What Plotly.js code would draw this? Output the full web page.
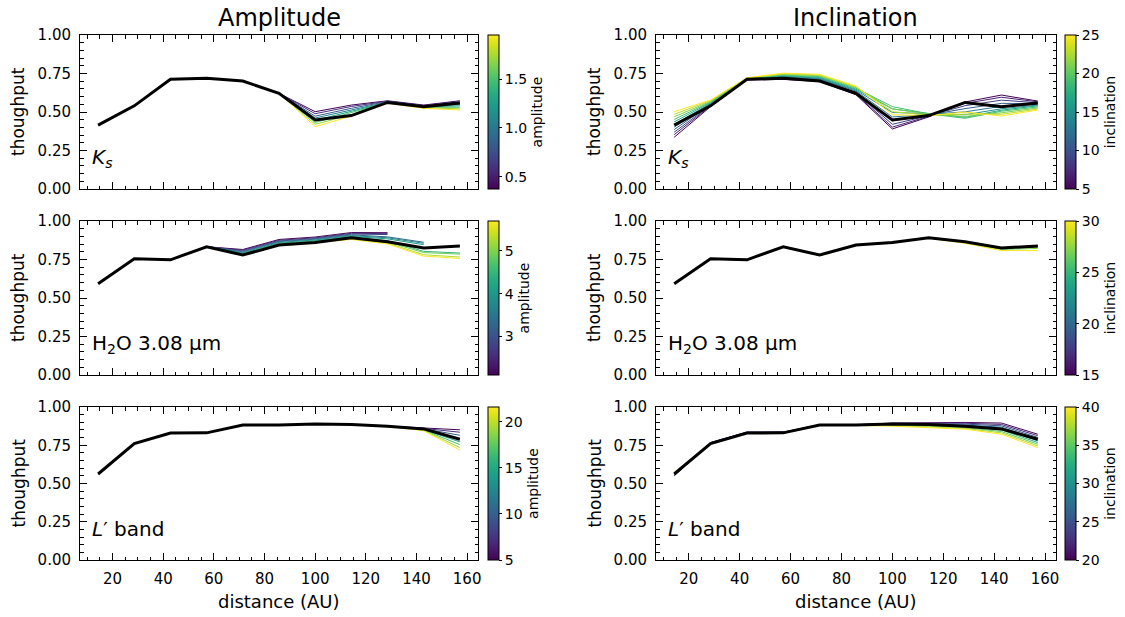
<!DOCTYPE html>
<html>
<head>
<meta charset="utf-8">
<script src="https://cdn.plot.ly/plotly-3.0.1.min.js"></script>
<style>html,body{margin:0;padding:0;background:#fff}#chart{width:1125px;height:617px}</style>
</head>
<body>
<div id="chart"></div>
<script>
// ---------------- DATA ----------------
const distance = [14.29, 28.57, 42.86, 57.14, 71.43, 85.71, 100.0, 114.29, 128.57, 142.86, 157.14];

// Reference (black) curves
const ksRef  = [0.415, 0.540, 0.712, 0.719, 0.701, 0.621, 0.448, 0.477, 0.562, 0.534, 0.558];
const h2oRef = [0.593, 0.755, 0.748, 0.833, 0.779, 0.844, 0.860, 0.891, 0.865, 0.825, 0.837];
const lpRef  = [0.562, 0.761, 0.830, 0.831, 0.882, 0.882, 0.889, 0.886, 0.875, 0.857, 0.789];

// Ks - amplitude
const ksAmpValues = [0.375, 0.6, 0.825, 1.05, 1.275, 1.5, 1.725, 1.95];
const ksAmpCurves = [
  [0.415, 0.540, 0.712, 0.719, 0.701, 0.621, 0.502, 0.545, 0.573, 0.545, 0.573],
  [0.415, 0.540, 0.712, 0.719, 0.701, 0.621, 0.489, 0.536, 0.570, 0.543, 0.566],
  [0.415, 0.540, 0.712, 0.719, 0.701, 0.621, 0.473, 0.524, 0.568, 0.539, 0.557],
  [0.415, 0.540, 0.712, 0.719, 0.701, 0.621, 0.461, 0.513, 0.565, 0.536, 0.548],
  [0.415, 0.540, 0.712, 0.719, 0.701, 0.621, 0.446, 0.503, 0.563, 0.532, 0.540],
  [0.415, 0.540, 0.712, 0.719, 0.701, 0.621, 0.432, 0.494, 0.561, 0.530, 0.531],
  [0.415, 0.540, 0.712, 0.719, 0.701, 0.621, 0.420, 0.483, 0.558, 0.527, 0.521],
  [0.415, 0.540, 0.712, 0.719, 0.701, 0.621, 0.405, 0.474, 0.556, 0.524, 0.513]
];

// Ks - inclination
const ksIncValues = [5, 7, 9, 11, 13, 15, 17, 19, 21, 23, 25];
const ksIncCurves = [
  [0.336, 0.535, 0.708, 0.712, 0.698, 0.612, 0.390, 0.468, 0.565, 0.610, 0.571],
  [0.353, 0.539, 0.709, 0.716, 0.703, 0.618, 0.402, 0.472, 0.556, 0.596, 0.566],
  [0.369, 0.543, 0.711, 0.720, 0.707, 0.624, 0.420, 0.476, 0.541, 0.577, 0.560],
  [0.386, 0.548, 0.712, 0.724, 0.712, 0.630, 0.442, 0.480, 0.522, 0.556, 0.555],
  [0.402, 0.552, 0.714, 0.728, 0.716, 0.636, 0.468, 0.485, 0.501, 0.537, 0.550],
  [0.419, 0.556, 0.715, 0.732, 0.720, 0.642, 0.497, 0.489, 0.482, 0.521, 0.545],
  [0.436, 0.561, 0.716, 0.736, 0.725, 0.648, 0.520, 0.490, 0.466, 0.512, 0.540],
  [0.452, 0.565, 0.717, 0.740, 0.730, 0.654, 0.535, 0.488, 0.459, 0.505, 0.533],
  [0.469, 0.569, 0.719, 0.744, 0.735, 0.659, 0.521, 0.485, 0.471, 0.495, 0.526],
  [0.485, 0.574, 0.720, 0.748, 0.740, 0.664, 0.502, 0.480, 0.486, 0.485, 0.519],
  [0.502, 0.578, 0.722, 0.752, 0.745, 0.669, 0.482, 0.476, 0.500, 0.474, 0.513]
];

// H2O - amplitude
const h2oAmpValues = [2.1, 2.5, 2.9, 3.3, 3.7, 4.1, 4.5, 4.9, 5.3, 5.7];
const h2oAmpCurves = [
  [0.593, 0.755, 0.748, 0.833, 0.815, 0.880, 0.896, 0.925, 0.924, null, null],
  [0.593, 0.755, 0.748, 0.833, 0.810, 0.875, 0.891, 0.920, 0.918, null, null],
  [0.593, 0.755, 0.748, 0.833, 0.805, 0.870, 0.886, 0.915, 0.912, null, null],
  [0.593, 0.755, 0.748, 0.833, 0.800, 0.866, 0.882, 0.910, 0.897, 0.862, null],
  [0.593, 0.755, 0.748, 0.833, 0.795, 0.861, 0.877, 0.905, 0.891, 0.855, null],
  [0.593, 0.755, 0.748, 0.833, 0.790, 0.856, 0.873, 0.900, 0.884, 0.846, null],
  [0.593, 0.755, 0.748, 0.833, 0.786, 0.852, 0.869, 0.895, 0.872, 0.803, 0.792],
  [0.593, 0.755, 0.748, 0.833, 0.783, 0.849, 0.866, 0.890, 0.864, 0.795, 0.785],
  [0.593, 0.755, 0.748, 0.833, 0.780, 0.847, 0.863, 0.885, 0.857, 0.781, 0.766],
  [0.593, 0.755, 0.748, 0.833, 0.778, 0.845, 0.860, 0.880, 0.851, 0.772, 0.757]
];

// H2O - inclination
const h2oIncValues = [15, 18, 21, 24, 27, 30];
const h2oIncCurves = [
  [0.593, 0.755, 0.744, 0.833, 0.779, 0.844, 0.860, 0.892, 0.866, 0.826, 0.838],
  [0.593, 0.755, 0.746, 0.833, 0.778, 0.844, 0.860, 0.891, 0.865, 0.825, 0.836],
  [0.593, 0.755, 0.748, 0.833, 0.778, 0.844, 0.860, 0.891, 0.864, 0.823, 0.834],
  [0.593, 0.755, 0.749, 0.833, 0.777, 0.844, 0.860, 0.890, 0.862, 0.820, 0.830],
  [0.593, 0.755, 0.750, 0.833, 0.776, 0.844, 0.860, 0.889, 0.859, 0.815, 0.822],
  [0.593, 0.755, 0.751, 0.833, 0.774, 0.843, 0.860, 0.888, 0.855, 0.808, 0.808]
];

// L' - amplitude
const lpAmpValues = [5, 7.4, 9.8, 12.1, 14.5, 16.8, 19.2, 21.6];
const lpAmpCurves = [
  [0.562, 0.761, 0.830, 0.831, 0.882, 0.882, 0.889, 0.886, 0.875, 0.862, 0.851],
  [0.562, 0.761, 0.830, 0.831, 0.882, 0.882, 0.889, 0.886, 0.875, 0.860, 0.835],
  [0.562, 0.761, 0.830, 0.831, 0.882, 0.882, 0.889, 0.886, 0.875, 0.858, 0.815],
  [0.562, 0.761, 0.830, 0.831, 0.882, 0.882, 0.889, 0.886, 0.874, 0.856, 0.792],
  [0.562, 0.761, 0.830, 0.831, 0.882, 0.882, 0.889, 0.886, 0.874, 0.853, 0.772],
  [0.562, 0.761, 0.830, 0.831, 0.882, 0.882, 0.889, 0.886, 0.873, 0.850, 0.754],
  [0.562, 0.761, 0.830, 0.831, 0.882, 0.882, 0.889, 0.886, 0.873, 0.848, 0.735],
  [0.562, 0.761, 0.830, 0.831, 0.882, 0.882, 0.889, 0.886, 0.872, 0.845, 0.719]
];

// L' - inclination
const lpIncValues = [20, 22.5, 25, 27.5, 30, 32.5, 35, 37.5, 40];
const lpIncCurves = [
  [0.552, 0.768, 0.836, 0.836, 0.884, 0.884, 0.895, 0.899, 0.899, 0.895, 0.822],
  [0.550, 0.767, 0.835, 0.835, 0.884, 0.884, 0.893, 0.895, 0.894, 0.886, 0.812],
  [0.552, 0.766, 0.834, 0.835, 0.883, 0.883, 0.890, 0.891, 0.888, 0.877, 0.801],
  [0.556, 0.765, 0.834, 0.834, 0.883, 0.883, 0.888, 0.887, 0.882, 0.868, 0.790],
  [0.560, 0.763, 0.833, 0.833, 0.882, 0.882, 0.885, 0.883, 0.876, 0.859, 0.779],
  [0.563, 0.762, 0.832, 0.832, 0.882, 0.882, 0.883, 0.879, 0.870, 0.850, 0.768],
  [0.566, 0.761, 0.831, 0.832, 0.881, 0.881, 0.880, 0.875, 0.865, 0.840, 0.757],
  [0.569, 0.760, 0.831, 0.831, 0.881, 0.881, 0.878, 0.870, 0.860, 0.831, 0.746],
  [0.572, 0.758, 0.830, 0.830, 0.880, 0.880, 0.875, 0.866, 0.855, 0.822, 0.735]
];

const columnTitles = ["Amplitude", "Inclination"];
const bandLabels = ["<i>K</i><sub><i>s</i></sub>", "H<sub>2</sub>O 3.08 µm", "<i>L</i>′ band"];
const yTitle = "thoughput";
const xTitle = "distance (AU)";

// ---------------- STYLE / LAYOUT ----------------
const W = 1125, H = 617;
const FONT = "DejaVu Sans, Liberation Sans, sans-serif";
const viridisStops = [[0,'#440154'],[0.0627,'#48186a'],[0.1255,'#472d7b'],[0.1882,'#424086'],[0.2510,'#3b528b'],[0.3137,'#33638d'],[0.3765,'#2c728e'],[0.4392,'#26828e'],[0.5020,'#21918c'],[0.5647,'#1fa088'],[0.6275,'#28ae80'],[0.6902,'#3fbc73'],[0.7529,'#5ec962'],[0.8157,'#84d44b'],[0.8784,'#addc30'],[0.9412,'#d8e219'],[1,'#fde725']];
function hex2rgb(h){return [parseInt(h.substr(1,2),16),parseInt(h.substr(3,2),16),parseInt(h.substr(5,2),16)];}
function viridis(t){
  t = Math.max(0, Math.min(1, t));
  for (let i = 1; i < viridisStops.length; i++) {
    if (t <= viridisStops[i][0]) {
      const a = viridisStops[i-1], b = viridisStops[i];
      const f = (t - a[0]) / (b[0] - a[0]);
      const ca = hex2rgb(a[1]), cb = hex2rgb(b[1]);
      return 'rgb(' + ca.map((v,k)=>Math.round(v + (cb[k]-v)*f)).join(',') + ')';
    }
  }
  return viridisStops[viridisStops.length-1][1];
}

// pixel geometry of panels
const colX = [[80, 478], [656, 1056]];
const rowY = [[35, 189], [221, 375], [407, 560]];
const cbX = [488, 1065];

const panels = [
  {row:0, col:0, vals:ksAmpValues,  curves:ksAmpCurves,  ref:ksRef,  cbTitle:'amplitude',   dtick:0.5, tick0:0, fmt:'.1f'},
  {row:0, col:1, vals:ksIncValues,  curves:ksIncCurves,  ref:ksRef,  cbTitle:'inclination', dtick:5,   tick0:0, fmt:'d'},
  {row:1, col:0, vals:h2oAmpValues, curves:h2oAmpCurves, ref:h2oRef, cbTitle:'amplitude',   dtick:1,   tick0:0, fmt:'d'},
  {row:1, col:1, vals:h2oIncValues, curves:h2oIncCurves, ref:h2oRef, cbTitle:'inclination', dtick:5,   tick0:0, fmt:'d'},
  {row:2, col:0, vals:lpAmpValues,  curves:lpAmpCurves,  ref:lpRef,  cbTitle:'amplitude',   dtick:5,   tick0:0, fmt:'d'},
  {row:2, col:1, vals:lpIncValues,  curves:lpIncCurves,  ref:lpRef,  cbTitle:'inclination', dtick:5,   tick0:0, fmt:'d'}
];

const traces = [];
const layout = {
  width: W, height: H,
  margin: {l:0, r:0, t:0, b:0},
  paper_bgcolor: 'white', plot_bgcolor: 'white',
  showlegend: false,
  font: {family: FONT, color: 'black', size: 14},
  annotations: []
};

panels.forEach((p, i) => {
  const n = i + 1;
  const xa = n === 1 ? 'x' : 'x' + n;
  const ya = n === 1 ? 'y' : 'y' + n;
  const xd = [colX[p.col][0] / W, colX[p.col][1] / W];
  const yd = [1 - rowY[p.row][1] / H, 1 - rowY[p.row][0] / H];
  const cmin = Math.min(...p.vals), cmax = Math.max(...p.vals);

  p.curves.forEach((c, k) => {
    traces.push({
      type: 'scatter', mode: 'lines', x: distance, y: c,
      xaxis: xa, yaxis: ya,
      line: {color: viridis((p.vals[k] - cmin) / (cmax - cmin)), width: 1},
      hoverinfo: 'skip'
    });
  });
  traces.push({
    type: 'scatter', mode: 'lines', x: distance, y: p.ref,
    xaxis: xa, yaxis: ya, line: {color: 'black', width: 3}, hoverinfo: 'skip'
  });
  // colorbar carrier
  traces.push({
    type: 'scatter', mode: 'markers', x: [null], y: [null],
    xaxis: xa, yaxis: ya, hoverinfo: 'skip',
    marker: {
      color: [cmin], cmin: cmin, cmax: cmax, colorscale: 'Viridis', showscale: true, size: 0,
      colorbar: {
        x: cbX[p.col] / W, xanchor: 'left', xpad: 0,
        y: (yd[0] + yd[1]) / 2, yanchor: 'middle', ypad: 0,
        len: rowY[p.row][1] - rowY[p.row][0], lenmode: 'pixels',
        thickness: 11, thicknessmode: 'pixels',
        outlinewidth: 1, outlinecolor: 'black',
        ticks: 'outside', ticklen: 3, tickwidth: 1, tickcolor: 'black',
        tick0: p.tick0, dtick: p.dtick, tickformat: p.fmt,
        tickfont: {size: 14, family: FONT, color: 'black'},
        title: {text: p.cbTitle, side: 'right', font: {size: 14, family: FONT, color: 'black'}}
      }
    }
  });

  const axCommon = {
    showline: true, linecolor: 'black', linewidth: 1, mirror: 'allticks',
    ticks: 'inside', ticklen: 7, tickwidth: 1, tickcolor: 'black',
    showgrid: false, zeroline: false, fixedrange: true,
    tickfont: {size: 15, family: FONT, color: 'black'}
  };
  layout['xaxis' + (n === 1 ? '' : n)] = Object.assign({}, axCommon, {
    domain: xd, anchor: ya, range: [7.14, 164.29],
    tick0: 0, dtick: 20, showticklabels: p.row === 2, ticklabelstandoff: 5,
    minor: {dtick: 5, tick0: 0, ticks: 'inside', ticklen: 3.5, tickcolor: 'black', showgrid: false}
  });
  layout['yaxis' + (n === 1 ? '' : n)] = Object.assign({}, axCommon, {
    domain: yd, anchor: xa, range: [0, 1],
    tick0: 0, dtick: 0.25, tickformat: '.2f', ticklabelstandoff: 5,
    minor: {dtick: 0.05, tick0: 0, ticks: 'inside', ticklen: 3.5, tickcolor: 'black', showgrid: false}
  });

  // band label
  layout.annotations.push({
    text: bandLabels[p.row], xref: xa + ' domain', yref: ya + ' domain',
    x: 0.025, y: 0.2, xanchor: 'left', yanchor: 'middle', showarrow: false,
    font: {size: 20, family: FONT, color: 'black'}
  });
  // y title
  layout.annotations.push({
    text: yTitle, xref: 'paper', yref: 'paper',
    x: (colX[p.col][0] - 62) / W, y: (yd[0] + yd[1]) / 2,
    xanchor: 'center', yanchor: 'middle', textangle: -90, showarrow: false,
    font: {size: 17, family: FONT, color: 'black'}
  });
});

[0, 1].forEach(c => {
  const cx = (colX[c][0] + colX[c][1]) / 2 / W;
  layout.annotations.push({
    text: columnTitles[c], xref: 'paper', yref: 'paper', x: cx, y: 1 - 18 / H,
    xanchor: 'center', yanchor: 'middle', showarrow: false,
    font: {size: 24, family: FONT, color: 'black'}
  });
  layout.annotations.push({
    text: xTitle, xref: 'paper', yref: 'paper', x: cx, y: 1 - 601 / H,
    xanchor: 'center', yanchor: 'middle', showarrow: false,
    font: {size: 18, family: FONT, color: 'black'}
  });
});

Plotly.newPlot('chart', traces, layout, {displayModeBar: false, staticPlot: true});
</script>
</body>
</html>
